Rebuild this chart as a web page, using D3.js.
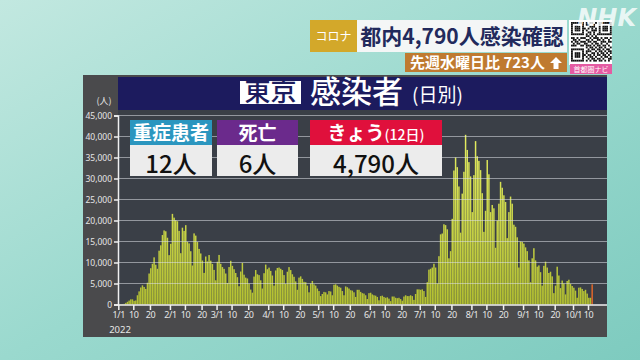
<!DOCTYPE html>
<html><head><meta charset="utf-8">
<script src="https://cdn.jsdelivr.net/npm/d3@7"></script>
<style>
body{margin:0;background:#8fd2c6;}
svg{display:block;font-family:"Noto Sans CJK JP","Noto Sans",sans-serif;}
</style>
</head><body>
<svg id="c" width="640" height="360"></svg>
<script>
// ---- data: Tokyo daily new cases, 2022-01-01 .. 2022-10-12 ----
const startDate = "2022-01-01";
const casesJan = [79,84,103,151,390,641,922,1224,1223,871,962,2198,3124,4051,4561,4172,3709,5185,7377,8638,9699,11227,9468,8503,12813,14086,16538,17631,17433,15895,11751];
const casesFeb = [14445,21576,20679,20080,19819,17526,12214,18287,17522,18891,14929,14545,12684,9285,16928,16400,14867,13236,12150,10469,7525,11425,10254,11776,10432,9637,8233,5762];
const casesMar = [10185,11800,9696,8914,8487,7377,5128,8911,10400,9200,8400,7500,6500,4350,7850,9900,7100,6400,6200,4950,3550,2820,6650,8200,7200,7000,5760,3800,7450,9500,8400];
const casesApr = [8777,8000,6900,4500,8100,8700,8800,8500,8200,7000,4900,7800,8900,8200,7200,6600,5500,3500,6400,6700,6100,5400,5300,4500,2900,5000,5600,4800,4500,3800];
const casesMay = [3200,2000,2500,3000,2900,2400,3200,3100,2200,4700,4800,4500,4200,4000,3200,2200,4300,4100,3800,3400,3300,2900,1800,3500,3500,3000,2700,2600,2200,1300,2700];
const casesJun = [2800,2400,2200,2100,1800,1000,2000,2100,1800,1600,1700,1400,800,1900,1900,1600,1500,1600,1300,900,1900,2200,2000,2000,2200,2000,1100,2500,3600,3600];
const casesJul = [3500,3600,3200,1800,5300,8300,8500,8800,9700,8800,5000,11500,16700,16900,19100,18900,17900,11000,12700,20400,31900,35000,32700,28100,17100,26400,31600,40400,36800,33900,30500];
const casesAug = [22000,30800,38900,35300,34200,32000,26500,17300,22300,34400,31000,22000,23700,22900,13500,20000,24000,29200,27800,26000,24400,15800,22000,25700,24000,19000,18500,16000,8800,15000,14900];
const casesSep = [14500,13600,12700,10500,5300,11000,13400,10500,9000,9300,7700,4500,9200,10200,8800,7500,7800,6700,2700,4500,9000,6900,3900,5700,5000,2400,5600,5900,4900,4400];
const casesOct = [4000,3300,1600,4000,4067,3700,3200,3500,2600,1600,1600,4790];

const yTicks = [0,5000,10000,15000,20000,25000,30000,35000,40000,45000];
const xTickDates = ["2022-01-01","2022-01-10","2022-01-20","2022-02-01","2022-02-10","2022-02-20","2022-03-01","2022-03-10","2022-03-20","2022-04-01","2022-04-10","2022-04-20","2022-05-01","2022-05-10","2022-05-20","2022-06-01","2022-06-10","2022-06-20","2022-07-01","2022-07-10","2022-07-20","2022-08-01","2022-08-10","2022-08-20","2022-09-01","2022-09-10","2022-09-20","2022-10-01","2022-10-10"];

const infoLabels = ["重症患者","死亡","きょう"];
const infoValues = ["12人","6人","4,790人"];
const headline = "都内4,790人感染確認";
const compareText = "先週水曜日比 723人";

// ---- build ----
const parse = d3.timeParse("%Y-%m-%d");
const allCases = [].concat(casesJan,casesFeb,casesMar,casesApr,casesMay,casesJun,casesJul,casesAug,casesSep,casesOct);
const t0 = parse(startDate);
const data = allCases.map((v,i)=>({date:d3.timeDay.offset(t0,i), v}));
const tEnd = d3.timeDay.offset(t0, allCases.length);

const svg = d3.select("#c");
const defs = svg.append("defs");
const bg = defs.append("linearGradient").attr("id","bg").attr("x1","0").attr("y1","0").attr("x2","1").attr("y2","1");
bg.append("stop").attr("offset","0").attr("stop-color","#c2e8e0");
bg.append("stop").attr("offset","0.5").attr("stop-color","#9ad9ce");
bg.append("stop").attr("offset","1").attr("stop-color","#7ecbbf");
const bg2 = defs.append("linearGradient").attr("id","bar").attr("gradientUnits","userSpaceOnUse")
  .attr("x1",0).attr("y1",130).attr("x2",0).attr("y2",305);
bg2.append("stop").attr("offset","0").attr("stop-color","#e6ef62");
bg2.append("stop").attr("offset","1").attr("stop-color","#b2bf30");

svg.append("rect").attr("width",640).attr("height",360).attr("fill","url(#bg)");

// panel
svg.append("rect").attr("x",83).attr("y",75).attr("width",524).attr("height",262).attr("fill","#4a4a4c");
svg.append("rect").attr("x",118).attr("y",77).attr("width",489).attr("height",33).attr("fill","#1c1b5e");
svg.append("rect").attr("x",118).attr("y",110).attr("width",489).attr("height",195).attr("fill","#3a3f47");

const x = d3.scaleTime().domain([t0, tEnd]).range([118.3, 593]);
const y = d3.scaleLinear().domain([0,45000]).range([304.5,115.5]);
const step = x(d3.timeDay.offset(t0,1)) - x(t0);

// bars
svg.append("g").selectAll("rect").data(data).join("rect")
  .attr("x", d=>x(d.date)+step*0.06)
  .attr("width", step*0.88)
  .attr("y", d=>y(d.v))
  .attr("height", d=>y(0)-y(d.v))
  .attr("fill", (d,i)=> i===data.length-1 ? "#e2672a" : "url(#bar)");

// gridlines (over bars)
svg.append("g").selectAll("line").data(yTicks.filter(t=>t>0)).join("line")
  .attr("x1",118).attr("x2",607).attr("y1",d=>y(d)).attr("y2",d=>y(d))
  .attr("stroke","rgba(220,224,230,0.55)").attr("stroke-width",1);

// y axis
const yAxis = svg.append("g").attr("transform","translate(118,0)")
  .call(d3.axisLeft(y).tickValues(yTicks).tickSize(4).tickPadding(2).tickFormat(d=>d===0?"0":d3.format(",")(d)));
yAxis.select(".domain").attr("stroke","#f0f0f0").attr("stroke-width",1.5);
yAxis.selectAll(".tick line").attr("stroke","#f0f0f0").attr("stroke-width",1.5);
yAxis.selectAll("text").attr("fill","#e6e6e6").attr("font-size",8.5).attr("font-family","Noto Sans, sans-serif");
svg.append("text").attr("x",104).attr("y",104).attr("text-anchor","middle").attr("fill","#e6e6e6").attr("font-size",9).text("(人)");

// x axis
const xAxis = svg.append("g").attr("transform","translate(0,305)")
  .call(d3.axisBottom(x).tickValues(xTickDates.map(parse)).tickSize(5).tickPadding(2)
    .tickFormat(d=> d.getDate()===1 ? (d.getMonth()+1)+"/1" : String(d.getDate())));
xAxis.select(".domain").attr("stroke","#f0f0f0").attr("stroke-width",1.5).attr("d","M118,0H607");
xAxis.selectAll(".tick line").attr("stroke","#f0f0f0").attr("stroke-width",1.5);
xAxis.selectAll("text").attr("fill","#e6e6e6").attr("font-size",9).attr("letter-spacing",-0.4).attr("font-family","Noto Sans, sans-serif");
svg.append("text").attr("x",120).attr("y",333).attr("text-anchor","middle").attr("fill","#e6e6e6").attr("font-size",9.5).attr("font-family","Noto Sans, sans-serif").text("2022");

// title
svg.append("rect").attr("x",240).attr("y",81).attr("width",61).attr("height",23).attr("fill","#ffffff");
svg.append("text").attr("x",270.5).attr("y",101).attr("text-anchor","middle").attr("fill","#1c1b5e").attr("font-size",26).attr("font-weight",500).text("東京");
svg.append("text").attr("x",310).attr("y",103).attr("fill","#ffffff").attr("font-size",31).attr("font-weight",500).text("感染者");
svg.append("text").attr("x",412).attr("y",102).attr("fill","#ffffff").attr("font-size",19).text("(日別)");

// info boxes
const boxes = [
  {x:130,w:82,c:"#2b96bf"},
  {x:217,w:81,c:"#6b2a8c"},
  {x:310,w:132,c:"#e0103c"}
];
boxes.forEach((b,i)=>{
  svg.append("rect").attr("x",b.x).attr("y",120).attr("width",b.w).attr("height",25).attr("fill",b.c);
  svg.append("rect").attr("x",b.x).attr("y",145).attr("width",b.w).attr("height",31).attr("fill","#ececec");
  const ht = svg.append("text").attr("x",b.x+b.w/2).attr("y",140).attr("text-anchor","middle").attr("fill","#fff").attr("font-size",19).attr("font-weight",700);
  ht.append("tspan").text(infoLabels[i]);
  if(i===2) ht.append("tspan").attr("font-size",14).attr("font-weight",500).text("(12日)");
  svg.append("text").attr("x",b.x+b.w/2).attr("y",173).attr("text-anchor","middle").attr("fill","#111").attr("font-size",24).attr("font-weight",500).text(infoValues[i]);
});

// top banner
svg.append("rect").attr("x",310).attr("y",20).attr("width",47).attr("height",32).attr("fill","#d3a82a");
svg.append("text").attr("x",333.5).attr("y",41).attr("text-anchor","middle").attr("fill","#fff").attr("font-size",12).text("コロナ");
svg.append("rect").attr("x",357).attr("y",20).attr("width",210).attr("height",32).attr("fill","#f4f6f6");
svg.append("text").attr("x",462).attr("y",44).attr("text-anchor","middle").attr("fill","#222a5c").attr("font-size",21).attr("font-weight",700).text(headline);
svg.append("rect").attr("x",405).attr("y",53).attr("width",162).attr("height",19).attr("fill","#bf7a30");
svg.append("text").attr("x",410).attr("y",68).attr("fill","#fff").attr("font-size",15).attr("font-weight",700).text(compareText);
svg.append("path").attr("d","M556,57 L562,63 L558.5,63 L558.5,69 L553.5,69 L553.5,63 L550,63 Z").attr("fill","#fff");

// QR-like code (decorative)
svg.append("rect").attr("x",569).attr("y",20).attr("width",43).attr("height",45).attr("fill","#fff");
const qrRows = ["1111111010110101111111","1000001011001001000001","1011101000111001011101","1011101101010101011101","1011101010011101011101","1000001001101001000001","1111111010101011111111","0000000011010100000000","1101011100101110101101","0110100011010011010010","1011011101101100111011","0101100110010110100100","1110011011101011011010","0000000010110101101001","1111111001011011010110","1000001011100101101011","1011101010011010110101","1011101101101011011010","1011101010110100101101","1000001001011011010011","1111111010101101101010"];
const qs = 1.85;
qrRows.forEach((row,r)=>{ for(let c=0;c<row.length;c++){ if(row[c]==="1") svg.append("rect").attr("x",571+c*qs).attr("y",22+r*qs*1.02).attr("width",qs).attr("height",qs).attr("fill","#111"); }});
svg.append("rect").attr("x",570).attr("y",64).attr("width",42).attr("height",10).attr("fill","#e45ba2");
svg.append("text").attr("x",591).attr("y",72).attr("text-anchor","middle").attr("fill","#fff").attr("font-size",7).text("首都圏ナビ");

// NHK logo
svg.append("text").attr("x",636).attr("y",26).attr("text-anchor","end").attr("fill","rgba(255,255,255,0.8)").attr("font-size",24).attr("font-weight",700).attr("font-style","italic").attr("font-family","DejaVu Sans, sans-serif").text("NHK");
</script>
</body></html>
